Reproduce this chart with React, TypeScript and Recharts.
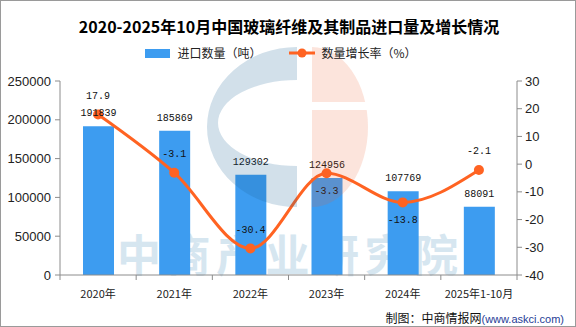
import React from 'react';
import { ComposedChart, Bar, Line, XAxis, YAxis, LabelList } from 'recharts';

const categories = ['2020年', '2021年', '2022年', '2023年', '2024年', '2025年1-10月'];
const importVolume = [191839, 185869, 129302, 124956, 107769, 88091];
const growthRate = [17.9, -3.1, -30.4, -3.3, -13.8, -2.1];
const volumeTicks = [0, 50000, 100000, 150000, 200000, 250000];
const rateTicks = [-40, -30, -20, -10, 0, 10, 20, 30];

const data = categories.map((name, i) => ({
  name,
  volume: importVolume[i],
  rate: growthRate[i],
}));

// side of the point where each growth label is drawn
const rateLabelSide = ['top', 'top', 'top', 'bottom', 'bottom', 'top'];

const W = 576;
const H = 327;
const LEFT_W = 60;
const RIGHT_W = 59;
const MARGIN = { top: 81, right: 0, bottom: 22, left: 0 };
const X_AXIS_H = 30;
const AXIS_Y = H - MARGIN.bottom - X_AXIS_H;
const BAND = (W - LEFT_W - RIGHT_W) / categories.length;

const CJK = '"Noto Sans CJK SC", sans-serif';
const BAR_COLOR = '#3d9cf0';
const LINE_COLOR = '#ff6322';
const AXIS_COLOR = '#8c8c8c';

const XTick = (props: any) => {
  const { x, payload, index } = props;
  const left = x - BAND / 2;
  return (
    <g>
      <line x1={left} y1={AXIS_Y} x2={left} y2={AXIS_Y + 5} stroke={AXIS_COLOR} />
      {index === categories.length - 1 && (
        <line x1={x + BAND / 2} y1={AXIS_Y} x2={x + BAND / 2} y2={AXIS_Y + 5} stroke={AXIS_COLOR} />
      )}
      <text x={x} y={AXIS_Y + 18} textAnchor="middle" dominantBaseline="central" fontSize={11} fontFamily={CJK} fill="#222">
        {payload.value}
      </text>
    </g>
  );
};

const RateLabel = (props: any) => {
  const { x, y, value, index } = props;
  const dy = rateLabelSide[index] === 'top' ? -18 : 18;
  return (
    <text x={x} y={y + dy} textAnchor="middle" dominantBaseline="central" fontSize={10} fontFamily='"Liberation Mono", monospace' fill="#111">
      {value}
    </text>
  );
};

export default function App() {
  return (
    <div
      style={{
        position: 'absolute',
        left: 0,
        top: 0,
        width: W,
        height: H,
        boxSizing: 'border-box',
        border: '1px solid #9a9a9a',
        background: '#fff',
        overflow: 'hidden',
      }}
    >
      {/* watermark text, behind the bars */}
      <div
        style={{
          position: 'absolute',
          left: 116,
          top: 226,
          fontFamily: CJK,
          fontWeight: 700,
          fontSize: 44,
          letterSpacing: 5.5,
          color: '#d6e6f0',
          lineHeight: '52px',
          whiteSpace: 'nowrap',
        }}
      >
        中商产业研究院
      </div>

      <div style={{ position: 'absolute', left: -1, top: -1 }}>
        <ComposedChart width={W} height={H} data={data} margin={MARGIN}>
          <XAxis
            dataKey="name"
            height={X_AXIS_H}
            stroke={AXIS_COLOR}
            tickLine={false}
            interval={0}
            tick={<XTick />}
          />
          <YAxis
            yAxisId="left"
            width={LEFT_W}
            domain={[0, 250000]}
            ticks={volumeTicks}
            stroke={AXIS_COLOR}
            tickSize={5}
            tickMargin={4}
            tick={{ fill: '#222', fontSize: 13, fontFamily: '"Liberation Sans", sans-serif' }}
          />
          <YAxis
            yAxisId="right"
            orientation="right"
            width={RIGHT_W}
            domain={[-40, 30]}
            ticks={rateTicks}
            stroke={AXIS_COLOR}
            tickSize={5}
            tickMargin={3}
            tick={{ fill: '#222', fontSize: 13, fontFamily: '"Liberation Sans", sans-serif' }}
          />
          <Bar yAxisId="left" dataKey="volume" fill={BAR_COLOR} barSize={31} isAnimationActive={false}>
            <LabelList
              dataKey="volume"
              position="top"
              offset={10}
              fill="#111"
              fontSize={10}
              fontFamily='"Liberation Mono", monospace'
            />
          </Bar>
          <Line
            yAxisId="right"
            type="monotone"
            dataKey="rate"
            stroke={LINE_COLOR}
            strokeWidth={3}
            dot={{ r: 5, fill: LINE_COLOR, stroke: LINE_COLOR, strokeWidth: 0 }}
            isAnimationActive={false}
          >
            <LabelList dataKey="rate" content={<RateLabel />} />
          </Line>
        </ComposedChart>
      </div>

      {/* logo watermark, laid over the plot */}
      <svg width={W} height={H} style={{ position: 'absolute', left: -1, top: -1, pointerEvents: 'none' }}>
        <defs>
          <clipPath id="peachClip">
            <rect x={312} y={40} width={70} height={62} />
            <rect x={312} y={110} width={70} height={110} />
          </clipPath>
        </defs>
        <path d="M297 47 A90 80 0 0 0 297 207 L297 166 A79 43 0 0 1 297 80 Z" fill="#1e6496" fillOpacity={0.2} />
        <path d="M312 47 A56 80 0 0 1 312 207 Z" fill="#f06030" fillOpacity={0.17} clipPath="url(#peachClip)" />
      </svg>

      <div
        style={{
          position: 'absolute',
          left: 0,
          top: 14,
          width: W,
          textAlign: 'center',
          fontFamily: CJK,
          fontWeight: 700,
          fontSize: 16,
          lineHeight: '22px',
          color: '#000',
        }}
      >
        2020-2025年10月中国玻璃纤维及其制品进口量及增长情况
      </div>

      <div
        style={{
          position: 'absolute',
          left: -8,
          top: 43,
          width: W,
          display: 'flex',
          justifyContent: 'center',
          alignItems: 'center',
          fontFamily: CJK,
          fontSize: 12,
          lineHeight: '18px',
          color: '#222',
        }}
      >
        <span style={{ width: 25, height: 9, background: BAR_COLOR, marginRight: 7 }} />
        <span>进口数量（吨）</span>
        <svg width={26} height={12} style={{ marginLeft: 28, marginRight: 6 }}>
          <line x1={0} y1={6} x2={26} y2={6} stroke={LINE_COLOR} strokeWidth={3} />
          <circle cx={13} cy={6} r={4.5} fill={LINE_COLOR} />
        </svg>
        <span>数量增长率（%）</span>
      </div>

      <div
        style={{
          position: 'absolute',
          right: 11,
          top: 308,
          fontSize: 12,
          lineHeight: '18px',
          whiteSpace: 'nowrap',
        }}
      >
        <span style={{ fontFamily: CJK, color: '#111' }}>制图：中商情报网</span>
        <span style={{ fontFamily: '"Liberation Sans", sans-serif', fontSize: 11, color: '#1f3d96' }}>(www.askci.com)</span>
      </div>
    </div>
  );
}
